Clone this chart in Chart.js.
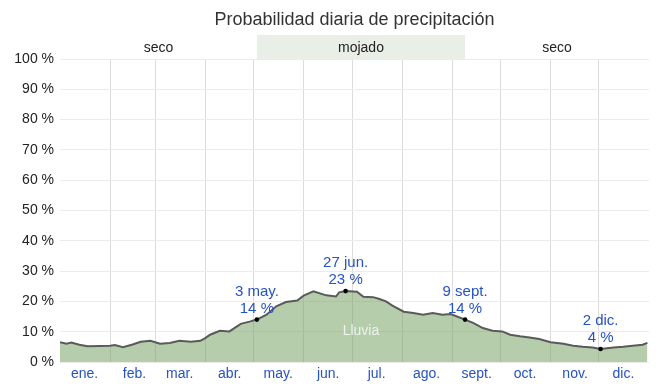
<!DOCTYPE html>
<html>
<head>
<meta charset="utf-8">
<script src="https://cdn.jsdelivr.net/npm/chart.js@4"></script>
<style>
html,body{margin:0;padding:0;background:#fff;}
#wrap{width:665px;height:386px;position:relative;}
</style>
</head>
<body>
<div id="wrap"><canvas id="c" width="665" height="386"></canvas></div>
<script>
// Day of year (0 = 1 Jan) and daily precipitation probability (%)
const days  = [0,4,7,12,17,25,31,34,39,45,50,56,62,68,74,81,87,90,93,99,105,112,118,122,128,134,140,147,151,157,165,171,173,177,184,188,194,198,202,206,213,219,225,231,237,242,246,251,256,262,268,274,279,285,291,297,304,312,318,324,330,335,343,349,355,361,364];
const probs = [6.5,6.0,6.4,5.7,5.2,5.3,5.4,5.6,4.9,5.8,6.7,7.0,6.0,6.3,7.0,6.7,7.0,7.9,9.0,10.3,10.1,12.6,13.4,14.0,15.6,18.4,19.8,20.3,21.9,23.3,22.0,21.6,23.0,23.4,23.2,21.5,21.4,20.8,20.0,18.6,16.6,16.2,15.6,16.2,15.6,15.8,15.0,14.0,12.9,11.2,10.3,10.1,9.0,8.5,8.1,7.6,6.5,6.0,5.4,5.0,4.8,4.3,4.8,5.0,5.4,5.7,6.3];

const monthStarts = [0,31,59,90,120,151,181,212,243,273,304,334,365];
const monthNames  = ['ene.','feb.','mar.','abr.','may.','jun.','jul.','ago.','sept.','oct.','nov.','dic.'];
const yTicks = [0,10,20,30,40,50,60,70,80,90,100];

const seasonStarts = [0,122,251];
const seasonEnds   = [122,251,365];
const seasonNames  = ['seco','mojado','seco'];

const annotDays   = [122,177,251,335];
const annotDates  = ['3 may.','27 jun.','9 sept.','2 dic.'];
const annotValues = [14,23,14,4];
const annotProbs  = [14,23.4,14,4.3];

const titleText = 'Probabilidad diaria de precipitación';
const seriesLabel = 'Lluvia';
const seriesLabelPos = [186.5, 10.2];

const FONT = "'Liberation Sans', Arial, sans-serif";
const BLUE = '#2552c4';

const points = days.map((d,i)=>({x:d,y:probs[i]}));

const overlay = {
  id:'overlay',
  beforeDraw(chart){
    const {ctx, chartArea:a, scales:{x}} = chart;
    ctx.save();
    ctx.fillStyle = '#333';
    ctx.font = '18px '+FONT;
    ctx.textAlign='center'; ctx.textBaseline='middle';
    ctx.fillText(titleText, (a.left+a.right)/2, 20);
    const top = a.top - 24;
    for(let i=0;i<seasonNames.length;i++){
      const x0 = x.getPixelForValue(seasonStarts[i]);
      const x1 = x.getPixelForValue(seasonEnds[i]);
      if(seasonNames[i]==='mojado'){
        ctx.fillStyle = '#e9efe6';
        ctx.fillRect(x0, top, x1-x0, 24);
      }
      ctx.fillStyle = '#222';
      ctx.font = '14px '+FONT;
      ctx.fillText(seasonNames[i], (x0+x1)/2, top+13);
    }
    ctx.restore();
  },
  afterDatasetsDraw(chart){
    const {ctx, scales:{x,y}} = chart;
    ctx.save();
    ctx.fillStyle='rgba(255,255,255,0.75)';
    ctx.font='14px '+FONT;
    ctx.textAlign='center'; ctx.textBaseline='middle';
    ctx.fillText(seriesLabel, x.getPixelForValue(seriesLabelPos[0]), y.getPixelForValue(seriesLabelPos[1]));
    for(let i=0;i<annotDays.length;i++){
      const px = x.getPixelForValue(annotDays[i]);
      const py = y.getPixelForValue(annotProbs[i]);
      ctx.fillStyle='#000';
      ctx.beginPath(); ctx.arc(px,py,2.3,0,Math.PI*2); ctx.fill();
      ctx.fillStyle=BLUE;
      ctx.font='15px '+FONT;
      ctx.fillText(annotDates[i], px, py-28);
      ctx.fillText(annotValues[i]+' %', px, py-11);
    }
    ctx.restore();
  }
};

new Chart(document.getElementById('c'), {
  type:'line',
  data:{datasets:[{
    data:points,
    borderColor:'#5a5a5a',
    borderWidth:2,
    backgroundColor:'rgba(110,155,90,0.5)',
    fill:'origin',
    pointRadius:0,
    tension:0
  }]},
  options:{
    responsive:false,
    animation:false,
    events:[],
    layout:{padding:{left:0,right:16,top:59,bottom:0}},
    plugins:{
      legend:{display:false},
      tooltip:{enabled:false},
      title:{display:false}
    },
    scales:{
      x:{type:'linear',min:0,max:365,
        afterBuildTicks(s){ s.ticks = monthStarts.map(v=>({value:v})); },
        afterFit(s){ s.height = 24; },
        border:{display:false},
        grid:{drawTicks:false,
          color:(c)=> (c.tick && (c.tick.value===0||c.tick.value===365)) ? 'rgba(0,0,0,0)' : '#dcdcdc'},
        ticks:{autoSkip:false,maxRotation:0,padding:4,labelOffset:24.5,color:BLUE,
          font:{family:FONT,size:14},
          callback:(v,i)=> i<monthNames.length ? monthNames[i] : ''}
      },
      y:{min:0,max:100,
        afterBuildTicks(s){ s.ticks = yTicks.map(v=>({value:v})); },
        afterFit(s){ s.width = 60; },
        border:{display:false},
        grid:{drawTicks:false,color:'#ebebeb'},
        ticks:{padding:6,color:'#222',font:{family:FONT,size:14},callback:v=>v+' %'}
      }
    }
  },
  plugins:[overlay]
});
</script>
</body>
</html>
